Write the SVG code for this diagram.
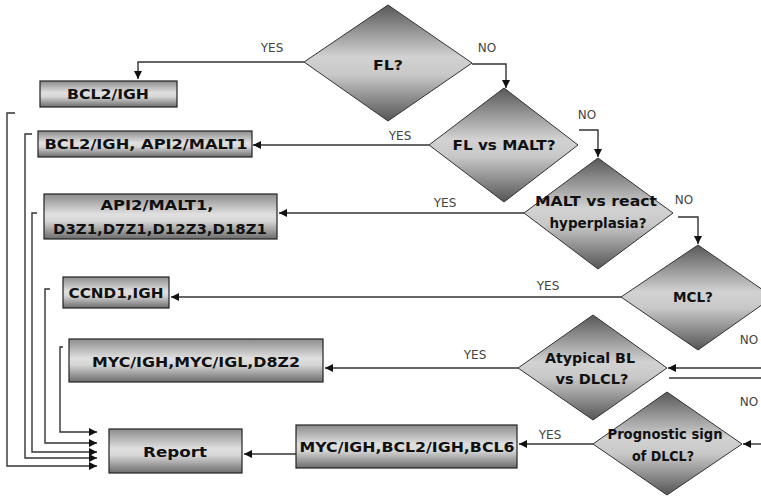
<svg xmlns="http://www.w3.org/2000/svg" width="761" height="499" viewBox="0 0 761 499">
<defs>
<linearGradient id="gBox" x1="0" y1="0" x2="0" y2="1">
<stop offset="0" stop-color="#8c8c8c"/>
<stop offset="0.45" stop-color="#e0e0e0"/>
<stop offset="0.6" stop-color="#d6d6d6"/>
<stop offset="1" stop-color="#6c6c6c"/>
</linearGradient>
<linearGradient id="gDia" x1="0" y1="0" x2="0" y2="1">
<stop offset="0" stop-color="#585858"/>
<stop offset="0.45" stop-color="#d2d2d2"/>
<stop offset="0.6" stop-color="#c8c8c8"/>
<stop offset="1" stop-color="#555"/>
</linearGradient>
<marker id="arr" viewBox="0 0 10 10" refX="10" refY="5" markerWidth="8" markerHeight="8" markerUnits="userSpaceOnUse" orient="auto">
<path d="M0,0 L10,5 L0,10 z" fill="#111"/>
</marker>
</defs>
<style>
.box{fill:url(#gBox);stroke:#222;stroke-width:1.2}
.dia{fill:url(#gDia);stroke:#333;stroke-width:1}
.t{font-family:"DejaVu Sans",sans-serif;font-weight:bold;font-size:14px;fill:#111;text-anchor:middle}
.lbl{font-family:"DejaVu Sans",sans-serif;font-size:12px;fill:#444;text-anchor:middle}
.ln{fill:none;stroke:#333;stroke-width:1.4}
.la{fill:none;stroke:#333;stroke-width:1.4;marker-end:url(#arr)}
</style>
<rect width="761" height="499" fill="#fff"/>

<g id="connectors">
<polyline class="la" points="304,62 138,62 138,79"/>
<polyline class="la" points="472,64 506,64 506,88"/>
<line class="la" x1="429" y1="145" x2="253" y2="145"/>
<polyline class="la" points="579,130 598,130 598,157"/>
<line class="la" x1="524" y1="213" x2="279" y2="213"/>
<polyline class="la" points="678,217 698,217 698,244"/>
<line class="la" x1="621" y1="297" x2="171" y2="297"/>
<line class="la" x1="761" y1="368" x2="668" y2="368"/>
<line class="ln" x1="669" y1="378" x2="761" y2="378"/>
<line class="la" x1="518" y1="368" x2="325" y2="368"/>
<line class="la" x1="761" y1="444" x2="743" y2="444"/>
<line class="la" x1="593" y1="444" x2="519" y2="444"/>
<line class="la" x1="296" y1="454" x2="244" y2="454"/>
<polyline class="la" points="15,113 7,113 7,466 97,466"/>
<polyline class="la" points="32,134 25,134 25,458 97,458"/>
<polyline class="la" points="37,213 32,213 32,452 97,452"/>
<polyline class="la" points="50,289 45,289 45,443 97,443"/>
<polyline class="la" points="63,347 60,347 60,432 97,432"/>
</g>

<g id="labels">
<text class="lbl" x="272" y="52">YES</text>
<text class="lbl" x="487" y="52">NO</text>
<text class="lbl" x="400" y="140">YES</text>
<text class="lbl" x="587" y="119">NO</text>
<text class="lbl" x="445" y="207">YES</text>
<text class="lbl" x="684" y="204">NO</text>
<text class="lbl" x="548" y="290">YES</text>
<text class="lbl" x="749" y="344">NO</text>
<text class="lbl" x="475" y="359">YES</text>
<text class="lbl" x="749" y="406">NO</text>
<text class="lbl" x="550" y="439">YES</text>
</g>

<g id="d-fl">
<polygon class="dia" points="388,5 472,63 388,121 304,62"/>
<text class="t" x="388" y="70" font-size="16" textLength="30" lengthAdjust="spacingAndGlyphs">FL?</text>
</g>
<g id="d-flmalt">
<polygon class="dia" points="504,88 578,145 504,202 429,145"/>
<text class="t" x="504" y="150" textLength="103" lengthAdjust="spacingAndGlyphs">FL vs MALT?</text>
</g>
<g id="d-malt">
<polygon class="dia" points="598,158 673,213 598,269 524,213"/>
<text class="t" x="596" y="206" textLength="122" lengthAdjust="spacingAndGlyphs">MALT vs react</text>
<text class="t" x="598" y="228" textLength="97" lengthAdjust="spacingAndGlyphs">hyperplasia?</text>
</g>
<g id="d-mcl">
<polygon class="dia" points="698,245 773,297 698,350 621,297"/>
<text class="t" x="693" y="302" textLength="40" lengthAdjust="spacingAndGlyphs">MCL?</text>
</g>
<g id="d-bl">
<polygon class="dia" points="593,315 667,368 593,420 518,368"/>
<text class="t" x="590" y="363" textLength="90" lengthAdjust="spacingAndGlyphs">Atypical BL</text>
<text class="t" x="592" y="384" textLength="73" lengthAdjust="spacingAndGlyphs">vs DLCL?</text>
</g>
<g id="d-prog">
<polygon class="dia" points="667,392 742,444 667,495 593,444"/>
<text class="t" x="665" y="439" textLength="115" lengthAdjust="spacingAndGlyphs">Prognostic sign</text>
<text class="t" x="663" y="461" textLength="62" lengthAdjust="spacingAndGlyphs">of DLCL?</text>
</g>

<g id="b-bcl2">
<rect class="box" x="40" y="81" width="137" height="26"/>
<text class="t" x="108" y="99" textLength="82" lengthAdjust="spacingAndGlyphs">BCL2/IGH</text>
</g>
<g id="b-bcl2api2">
<rect class="box" x="38" y="131" width="214" height="26"/>
<text class="t" x="146" y="149" textLength="203" lengthAdjust="spacingAndGlyphs">BCL2/IGH, API2/MALT1</text>
</g>
<g id="b-api2">
<rect class="box" x="44" y="194" width="233" height="45"/>
<text class="t" x="157" y="210" textLength="113" lengthAdjust="spacingAndGlyphs">API2/MALT1,</text>
<text class="t" x="160" y="234" textLength="214" lengthAdjust="spacingAndGlyphs">D3Z1,D7Z1,D12Z3,D18Z1</text>
</g>
<g id="b-ccnd1">
<rect class="box" x="63" y="277" width="106" height="31"/>
<text class="t" x="116" y="298" textLength="95" lengthAdjust="spacingAndGlyphs">CCND1,IGH</text>
</g>
<g id="b-myc">
<rect class="box" x="69" y="339" width="254" height="43"/>
<text class="t" x="196" y="367" textLength="208" lengthAdjust="spacingAndGlyphs">MYC/IGH,MYC/IGL,D8Z2</text>
</g>
<g id="b-report">
<rect class="box" x="109" y="429" width="133" height="44"/>
<text class="t" x="175" y="457" font-size="17" textLength="64" lengthAdjust="spacingAndGlyphs">Report</text>
</g>
<g id="b-prog">
<rect class="box" x="296" y="425" width="221" height="43"/>
<text class="t" x="407" y="452" textLength="215" lengthAdjust="spacingAndGlyphs">MYC/IGH,BCL2/IGH,BCL6</text>
</g>
</svg>
